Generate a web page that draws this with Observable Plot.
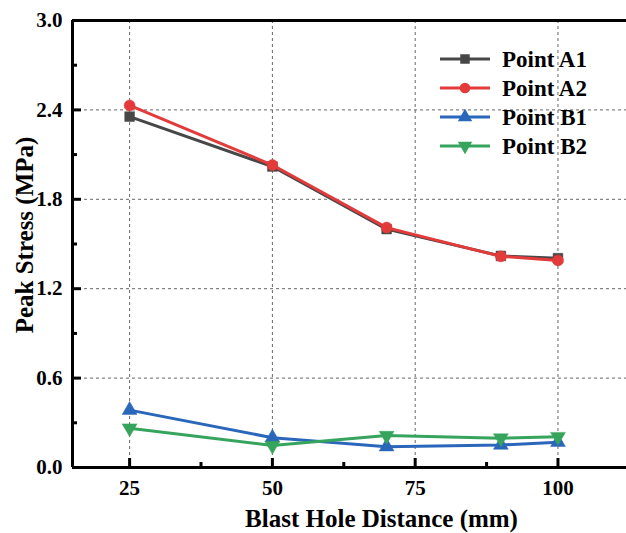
<!DOCTYPE html>
<html>
<head>
<meta charset="utf-8">
<script src="https://cdn.jsdelivr.net/npm/d3@7"></script>
<script src="https://cdn.jsdelivr.net/npm/@observablehq/plot@0.6"></script>
<style>
  html, body { margin: 0; padding: 0; background: #fff; }
  #wrap { position: relative; width: 626px; height: 533px; font-family: "Liberation Serif", "DejaVu Serif", serif; }
  #wrap svg text { font-family: "Liberation Serif", "DejaVu Serif", serif; }
  #legend { position: absolute; left: 0; top: 0; pointer-events: none; }
</style>
</head>
<body>
<div id="wrap"></div>
<script>
const distances = [25, 50, 70, 90, 100];
const seriesNames = ["Point A1", "Point A2", "Point B1", "Point B2"];
const pointA1 = [2.355, 2.02, 1.60, 1.42, 1.405];
const pointA2 = [2.43, 2.03, 1.61, 1.417, 1.39];
const pointB1 = [0.385, 0.20, 0.14, 0.151, 0.17];
const pointB2 = [0.264, 0.147, 0.214, 0.197, 0.207];
const xTicks = [25, 50, 75, 100];
const xMinorTicks = [37.5, 62.5, 87.5];
const yTicks = [0, 0.6, 1.2, 1.8, 2.4, 3.0];
const yMinorTicks = [0.3, 0.9, 1.5, 2.1, 2.7];
const yGrid = [0.6, 1.2, 1.8, 2.4];
const xLabel = "Blast Hole Distance (mm)";
const yLabel = "Peak Stress (MPa)";

const colors = ["#474747", "#e33b3b", "#2a67bb", "#36a45c"];
const symbols = ["square", "circle", "triangle", "triangle"];
const rotations = [0, 0, 0, 180];
const values = [pointA1, pointA2, pointB1, pointB2];

const rows = [];
seriesNames.forEach((s, i) => distances.forEach((d, j) => rows.push({series: s, x: d, y: values[i][j]})));

const font = "Liberation Serif, DejaVu Serif, serif";

const W = 626, H = 533, mL = 72, mR = 0, mT = 20, mB = 66;
const innerW = W - mL - mR, innerH = H - mT - mB;

const seriesMarks = [];
seriesNames.forEach((s, i) => {
  const data = rows.filter(r => r.series === s);
  seriesMarks.push(Plot.line(data, {x: "x", y: "y", stroke: colors[i], strokeWidth: 3}));
  seriesMarks.push(Plot.dot(data, {x: "x", y: "y", fill: colors[i], stroke: colors[i], strokeWidth: 0.5, symbol: symbols[i], r: 5.5, rotate: rotations[i]}));
});

const tickStyle = {stroke: "#000", strokeWidth: 3};

const chart = Plot.plot({
  width: W,
  height: H,
  marginLeft: mL,
  marginRight: mR,
  marginTop: mT,
  marginBottom: mB,
  style: {fontFamily: font, background: "#fff"},
  x: {domain: [15, 112]},
  y: {domain: [0, 3]},
  marks: [
    Plot.gridX(xTicks, {stroke: "#666", strokeOpacity: 1, strokeWidth: 1, strokeDasharray: "3,3"}),
    Plot.gridY(yGrid, {stroke: "#666", strokeOpacity: 1, strokeWidth: 1, strokeDasharray: "3,3"}),
    ...seriesMarks,
    Plot.axisX(xTicks, {tickSize: 0, tickPadding: 13, fontSize: 21, fontWeight: "bold", fill: "#000", label: null}),
    Plot.axisY(yTicks, {tickSize: 0, tickPadding: 10, fontSize: 21, fontWeight: "bold", fill: "#000", tickFormat: d3.format(".1f"), label: null}),
    Plot.tickX(xTicks, {x: d => d, insetTop: innerH - 9, ...tickStyle}),
    Plot.tickX(xMinorTicks, {x: d => d, insetTop: innerH - 5, ...tickStyle}),
    Plot.tickY(yTicks, {y: d => d, insetRight: innerW - 9, ...tickStyle}),
    Plot.tickY(yMinorTicks, {y: d => d, insetRight: innerW - 5, ...tickStyle}),
    Plot.ruleY([0], {stroke: "#000", strokeWidth: 3}),
    Plot.ruleY([3], {stroke: "#000", strokeWidth: 3}),
    Plot.ruleX([15], {stroke: "#000", strokeWidth: 3}),
    Plot.text([xLabel], {frameAnchor: "bottom", dy: 59, dx: 32, fontSize: 25, fontWeight: "bold", fill: "#000", textAnchor: "middle"}),
    Plot.text([yLabel], {frameAnchor: "left", dx: -48, dy: -9, rotate: -90, fontSize: 25, fontWeight: "bold", fill: "#000", textAnchor: "middle"})
  ]
});

const wrap = document.getElementById("wrap");
wrap.appendChild(chart);

// legend overlay
const leg = d3.select(wrap).append("svg").attr("id", "legend").attr("width", W).attr("height", H);
seriesNames.forEach((s, i) => {
  const cy = 59 + i * 29;
  const g = leg.append("g").attr("transform", `translate(0,${cy})`);
  g.append("line").attr("x1", 440).attr("x2", 490).attr("y1", 0).attr("y2", 0).attr("stroke", colors[i]).attr("stroke-width", 3);
  const symType = {square: d3.symbolSquare, circle: d3.symbolCircle, triangle: d3.symbolTriangle}[symbols[i]];
  g.append("path").attr("d", d3.symbol(symType, 90)())
    .attr("transform", `translate(465,0) rotate(${rotations[i]})`).attr("fill", colors[i]);
  g.append("text").attr("x", 502).attr("y", 0).attr("dy", "0.35em")
    .attr("font-weight", "bold").attr("font-size", 23).attr("fill", "#000").text(s);
});
</script>
</body>
</html>
